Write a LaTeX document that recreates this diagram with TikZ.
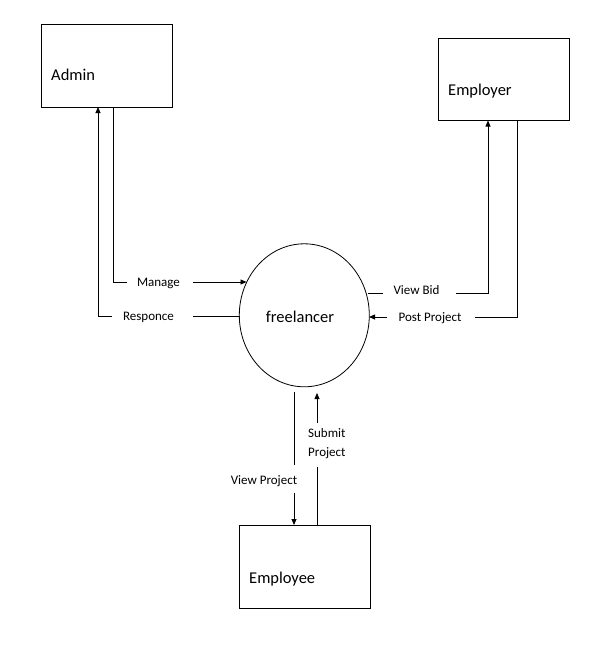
\documentclass[tikz,border=0pt]{standalone}
\usepackage{fontspec}
\setmainfont{Carlito}
\usetikzlibrary{arrows.meta,shapes.geometric}
\begin{document}
\begin{tikzpicture}[x=1pt,y=-1pt,
  box/.style={draw,line width=0.9pt,minimum width=131pt,minimum height=83pt,inner sep=0pt},
  boxlabel/.style={anchor=base west,font=\fontsize{16.5}{19}\selectfont,inner sep=0pt},
  lab/.style={anchor=base,font=\fontsize{13}{19}\selectfont,inner sep=0pt},
  conn/.style={line width=0.8pt},
  arr/.style={conn,-{Triangle[length=6pt,width=5pt]}}]
\useasboundingbox (0,0) rectangle (608,653);

% entities
\node[box] (admin) at (106.5,65.5) {};
\node[box,minimum height=82pt] (employer) at (503.5,79) {};
\node[box] (employee) at (305,566.5) {};
\node[boxlabel] (adminT) at (51,80) {Admin};
\node[boxlabel] (employerT) at (448,95) {Employer};
\node[boxlabel] (employeeT) at (249,583) {Employee};

% process
\node[draw,ellipse,line width=0.8pt,minimum width=130pt,minimum height=143pt,inner sep=0pt,
      font=\fontsize{16.5}{19}\selectfont] (free) at (304.3,315.3) {};
\node[font=\fontsize{16.5}{19}\selectfont,anchor=base] (freeT) at (300,322) {freelancer};

% labels
\node[lab] (manage) at (158.5,286) {Manage};
\node[lab] (resp) at (148.5,320) {Responce};
\node[lab] (viewbid) at (416.5,294) {View Bid};
\node[lab] (postproj) at (430,321) {Post Project};
\node[lab] (viewproj) at (264,484) {View Project};
\node[lab,anchor=base west] (submit1) at (308,437) {Submit};
\node[lab,anchor=base west] (submit2) at (308,456) {Project};

% connector points
\coordinate (mgA) at (113,107);
\coordinate (mgB) at (127,282);
\coordinate (mgC) at (193,282);
\coordinate (mgD) at (246.5,282);
\coordinate (rsA) at (98,107);
\coordinate (rsB) at (112,316);
\coordinate (rsC) at (193,316);
\coordinate (rsD) at (239.5,316);
\coordinate (vbA) at (368,293);
\coordinate (vbB) at (383,293);
\coordinate (vbC) at (456,293);
\coordinate (vbD) at (488,120.5);
\coordinate (ppA) at (517,120.5);
\coordinate (ppB) at (475,317);
\coordinate (ppC) at (387,317);
\coordinate (ppD) at (369,317);
\coordinate (vpA) at (294,392);
\coordinate (vpB) at (294,465);
\coordinate (vpC) at (294,493);
\coordinate (vpD) at (294,525);
\coordinate (spA) at (317,525);
\coordinate (spB) at (317,467);
\coordinate (spC) at (317,423);
\coordinate (spD) at (317,393);

% Manage
\draw[conn] (mgA) |- (mgB);
\draw[arr] (mgC) -- (mgD);
% Responce
\draw[conn] (rsD) -- (rsC);
\draw[arr] (rsB) -| (rsA);
% View Bid
\draw[conn] (vbA) -- (vbB);
\draw[arr] (vbC) -| (vbD);
% Post Project
\draw[conn] (ppA) |- (ppB);
\draw[arr] (ppC) -- (ppD);
% View Project
\draw[conn] (vpA) -- (vpB);
\draw[arr] (vpC) -- (vpD);
% Submit Project
\draw[conn] (spA) -- (spB);
\draw[arr] (spC) -- (spD);
\end{tikzpicture}
\end{document}
